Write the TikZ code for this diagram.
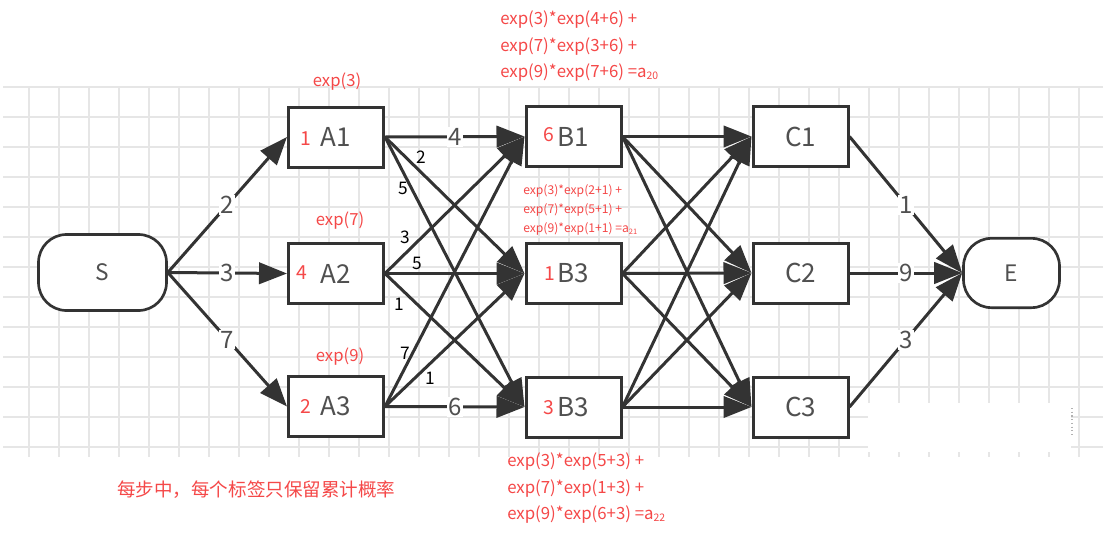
\documentclass[tikz,border=0pt]{standalone}
\usepackage{fontspec}
\setmainfont{Noto Sans CJK SC}
\usetikzlibrary{arrows.meta}
\definecolor{ln}{RGB}{51,51,51}
\definecolor{tx}{RGB}{80,80,80}
\definecolor{rd}{RGB}{245,72,72}
\definecolor{gridc}{RGB}{230,230,230}
\tikzset{
 box/.style={draw=ln,line width=2.25pt,fill=white,minimum width=71.25pt,minimum height=45pt,inner sep=0pt,text=tx,font=\fontsize{19.5}{20}\selectfont},
 term/.style={draw=ln,line width=2pt,fill=white,rounded corners=21pt,inner sep=0pt,text=tx,font=\fontsize{17}{18}\selectfont},
 conn/.style={draw=ln,line width=2.25pt,-{Triangle[length=21pt,width=16pt]}},
 wlab/.style={fill=white,text=tx,inner sep=1pt,font=\fontsize{18}{18}\selectfont},
 slab/.style={text=black,inner sep=0pt,font=\fontsize{13}{13}\selectfont},
 rnum/.style={text=rd,inner sep=0pt,font=\fontsize{14.5}{15}\selectfont},
 rtxt/.style={text=rd,inner sep=0pt,font=\fontsize{12.5}{13}\selectfont},
 annbig/.style={text=rd,inner sep=0pt,anchor=west,font=\fontsize{12.6}{13}\selectfont},
 annsmall/.style={text=rd,inner sep=0pt,anchor=west,font=\fontsize{9.1}{10}\selectfont},
 gridline/.style={draw=gridc,line width=1.1pt},
}
\newcommand{\subsc}[1]{\raisebox{-0.12em}{\scalebox{0.62}{#1}}}
\begin{document}
\begin{tikzpicture}[x=0.75pt,y=-0.75pt]
\useasboundingbox (0,0) rectangle (1110,532);
\fill[white] (0,0) rectangle (1110,532);
% grid
\foreach \yy in {87,117,...,447} \draw[gridline] (3,\yy) -- (1103,\yy);
\foreach \xx in {29,59,...,1079} \draw[gridline] (\xx,87) -- (\xx,457);
\fill[white] (868,403) rectangle (1071,452);
\draw[gray!60,dotted,line width=0.8pt] (1072,408) -- (1072,436);

% nodes
\node[term,minimum width=96pt,minimum height=57pt] (S) at (102.5,272.5) {S};
\node[term,minimum width=72pt,minimum height=52pt] (E) at (1011.5,273) {E};

\node[box] (A1) at (336,137) {A1};
\node[box] (A2) at (336,273.5) {A2};
\node[box] (A3) at (336,406.5) {A3};
\node[box] (B1) at (573.5,136.5) {B1};
\node[box] (B2) at (573.5,273.5) {B3};
\node[box] (B3) at (573.5,407) {B3};
\node[box] (C1) at (800.5,136.5) {C1};
\node[box] (C2) at (800.5,273) {C2};
\node[box] (C3) at (800.5,407) {C3};

% red numbers in boxes
\node[rnum] (nA1) at (306,139) {1};
\node[rnum] (nA2) at (302,273) {4};
\node[rnum] (nA3) at (306,406) {2};
\node[rnum] (nB1) at (549,135) {6};
\node[rnum] (nB2) at (550,274) {1};
\node[rnum] (nB3) at (549,408) {3};

% exp labels above A
\node[rtxt] (eA1) at (337,82) {exp(3)};
\node[rtxt] (eA2) at (340,221) {exp(7)};
\node[rtxt] (eA3) at (340,357) {exp(9)};

% S -> A
\draw[conn] (S.east) -- node[wlab]{2} (A1.west);
\draw[conn] (S.east) -- node[wlab]{3} (A2.west);
\draw[conn] (S.east) -- node[wlab]{7} (A3.west);

% A -> B
\draw[conn] (A1.east) -- node[wlab]{4} (B1.west);
\draw[conn] (A1.east) -- (B2.west);
\draw[conn] (A1.east) -- (B3.west);
\draw[conn] (A2.east) -- (B1.west);
\draw[conn] (A2.east) -- (B2.west);
\draw[conn] (A2.east) -- (B3.west);
\draw[conn] (A3.east) -- (B1.west);
\draw[conn] (A3.east) -- (B2.west);
\draw[conn] (A3.east) -- node[wlab]{6} (B3.west);

% small weight labels
\node[slab] (w12) at (421,157) {2};
\node[slab] (w13) at (403,188) {5};
\node[slab] (w21) at (405,237) {3};
\node[slab] (w22) at (417,263) {5};
\node[slab] (w23) at (399,304) {1};
\node[slab] (w31) at (405,353) {7};
\node[slab] (w32) at (430,378) {1};

% B -> C
\foreach \b in {B1,B2,B3}
  \foreach \c in {C1,C2,C3}
    \draw[conn] (\b.east) -- (\c.west);

% C -> E
\draw[conn] (C1.east) -- node[wlab]{1} (E.west);
\draw[conn] (C2.east) -- node[wlab]{9} (E.west);
\draw[conn] (C3.east) -- node[wlab]{3} (E.west);

% annotations
\node[annbig] (t1) at (500,20) {exp(3)*exp(4+6) +};
\node[annbig] (t2) at (500,46.5) {exp(7)*exp(3+6) +};
\node[annbig] (t3) at (500,73) {exp(9)*exp(7+6) =a\subsc{20}};

\node[annsmall] (m1) at (523,191) {exp(3)*exp(2+1) +};
\node[annsmall] (m2) at (523,210) {exp(7)*exp(5+1) +};
\node[annsmall] (m3) at (523,229) {exp(9)*exp(1+1) =a\subsc{21}};

\node[annbig] (b1) at (507,462) {exp(3)*exp(5+3) +};
\node[annbig] (b2) at (507,488.5) {exp(7)*exp(1+3) +};
\node[annbig] (b3) at (507,515) {exp(9)*exp(6+3) =a\subsc{22}};

\node[text=rd,inner sep=0pt,anchor=west,font=\fontsize{13.9}{14}\selectfont] (note) at (117,490) {每步中，每个标签只保留累计概率};
\end{tikzpicture}
\end{document}
